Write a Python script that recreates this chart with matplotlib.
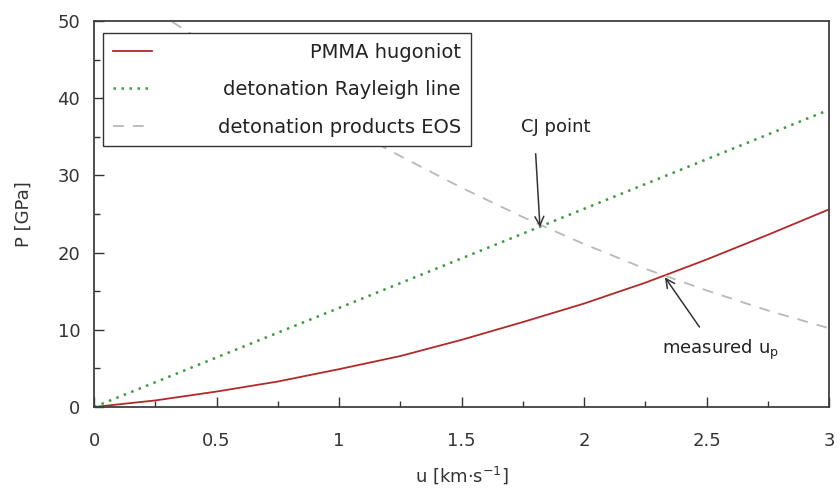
import numpy as np
import matplotlib.pyplot as plt

# values
u_grid = [0, 0.25, 0.5, 0.75, 1.0, 1.25, 1.5, 1.75, 2.0, 2.25, 2.5, 2.75, 3.0]
p_hugoniot = [0, 0.85, 2.0, 3.3, 4.9, 6.6, 8.7, 11.0, 13.4, 16.1, 19.1, 22.3, 25.6]

u_rayleigh = [0, 3.0]
p_rayleigh = [0, 38.5]

u_eos = [0.25, 0.5, 0.75, 1.0, 1.25, 1.5, 1.75, 2.0, 2.25, 2.5, 2.75, 3.0]
p_eos = [51.3, 46.2, 41.3, 36.7, 32.5, 28.4, 24.6, 21.1, 17.9, 15.1, 12.5, 10.2]

cj_point = (1.82, 23.3)
measured_point = (2.33, 16.8)

labels = ['PMMA hugoniot', 'detonation Rayleigh line', 'detonation products EOS']

plt.rcParams['font.family'] = ['DejaVu Sans']
plt.rcParams['font.size'] = 13

fig = plt.figure(figsize=(8.4, 4.88), dpi=100)
ax = fig.add_axes([0.112, 0.166, 0.875, 0.791])

ax.plot(u_grid, p_hugoniot, color='#b02a2a', lw=1.3, label=labels[0])
ax.plot(u_rayleigh, p_rayleigh, color='#3c9a3c', lw=1.8, ls=(0, (1, 2.2)), label=labels[1])
ax.plot(u_eos, p_eos, color='#b8b8b8', lw=1.3, ls=(0, (6, 5)), label=labels[2])

ax.set_xlim(0, 3)
ax.set_ylim(0, 50)
ax.set_xticks(np.arange(0, 3.01, 0.5))
ax.set_xticklabels(['0', '0.5', '1', '1.5', '2', '2.5', '3'])
ax.set_xticks(np.arange(0.25, 3, 0.5), minor=True)
ax.set_yticks(np.arange(0, 51, 10))
ax.set_yticks(np.arange(5, 50, 10), minor=True)
ax.tick_params(which='both', direction='in', top=False, right=False, color='#333333')
ax.tick_params(which='major', length=7, width=1)
ax.tick_params(which='minor', length=4, width=1)
ax.tick_params(axis='x', which='major', pad=18, labelcolor='#333333')
ax.tick_params(axis='y', which='major', pad=10, labelcolor='#333333')
for s in ax.spines.values():
    s.set_color('#404040')
    s.set_linewidth(1.3)

ax.set_xlabel('u [km$\\cdot$s$^{-1}$]', labelpad=10, color='#333333')
ax.set_ylabel('P [GPa]', labelpad=18, color='#333333')

# annotations
ax.annotate('CJ point', xy=cj_point, xytext=(1.886, 36.3), ha='center', va='center',
            color='#222222',
            arrowprops=dict(arrowstyle='->', color='#333333', lw=1.1, mutation_scale=16,
                            shrinkA=11, shrinkB=0, relpos=(0.19, 0.0)))
ax.annotate('measured u$_\\mathrm{p}$', xy=measured_point, xytext=(2.32, 7.4), ha='left', va='center',
            color='#222222',
            arrowprops=dict(arrowstyle='->', color='#333333', lw=1.1, mutation_scale=16,
                            shrinkA=7, shrinkB=0, relpos=(0.38, 1.0)))

leg = ax.legend(loc='upper left', bbox_to_anchor=(0.012, 0.969), borderaxespad=0,
                fancybox=False, edgecolor='#333333', framealpha=1, fontsize=14,
                handlelength=2.0, labelspacing=0.95, borderpad=0.5, handletextpad=3.4)
leg.get_frame().set_linewidth(1.0)

# right-align legend text like the original
fig.canvas.draw()
renderer = fig.canvas.get_renderer()
widths = [t.get_window_extent(renderer).width for t in leg.get_texts()]
shift = max(widths)
for t, w in zip(leg.get_texts(), widths):
    t.set_position((shift - w, 0))
    t.set_color('#222222')

fig.savefig('out.png', dpi=100)
